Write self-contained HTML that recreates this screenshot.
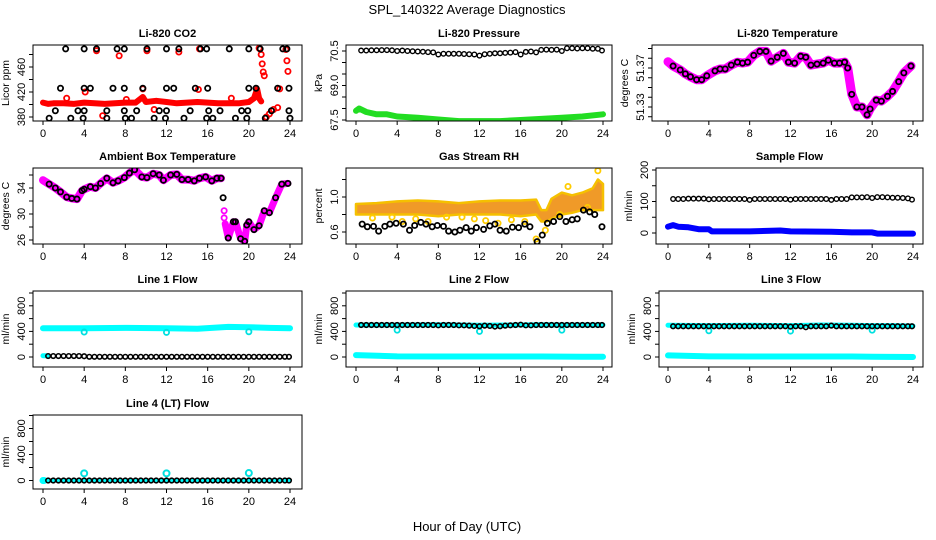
<!DOCTYPE html>
<html><head><meta charset="utf-8"><title>SPL_140322 Average Diagnostics</title>
<style>
html,body{margin:0;padding:0;background:#fff;}
svg{display:block;font-family:"Liberation Sans",Arial,sans-serif;}
</style></head>
<body>
<svg id="chart" width="936" height="540" viewBox="0 0 936 540" xmlns="http://www.w3.org/2000/svg">
<rect width="936" height="540" fill="#fff"/>
<text x="467" y="14" font-size="13" text-anchor="middle">SPL_140322  Average Diagnostics</text>
<text x="467" y="531" font-size="13" text-anchor="middle">Hour of Day (UTC)</text>
</svg>
<script>
// ---------- DATA ----------
// Li-820 CO2
const co2BlackH = [2.2,4.0,5.2,7.2,7.9,10.1,12.0,13.2,15.3,15.9,18.1,20.0,21.1,23.3,23.7, 1.7,4.0,4.6,6.8,7.9,9.7,12.0,12.7,14.8,16.0,20.0,20.7,22.8,23.9, 1.2,3.4,4.0,6.2,7.9,9.1,11.3,12.0,14.3,16.1,17.2,19.3,19.9,22.2,23.9, 0.6,2.7,3.9,6.2,8.0,8.6,10.8,11.9,13.7,15.9,16.5,18.7,19.8,21.6,24.0];
const co2BlackV = [489,489,489,489,489,489,489,489,489,489,489,489,489,489,489, 426,426,426,426,426,426,426,426,426,426,426,426,426,426, 390,390,390,390,390,390,390,390,390,390,390,390,390,390,390, 378,378,378,378,378,378,378,378,378,378,378,378,378,378,378];
const co2RedH = [0,0.5,1,2,3,4,5,6,7,8,9,9.7,10,11,12,13,14,15,16,17,18,19,20,20.5,20.8,21,21.2];
const co2RedV = [403,401,402,402,401,403,402,401,402,403,403,412,404,406,404,402,403,404,403,402,402,402,404,410,425,410,405];
const co2RedPtH = [5.2,10.1,13.2,15.2,7.4,4.1,9.7,15.1,21.0,21.2,21.3,21.4,21.5,21.7,22.0,22.4,22.8,23.0,23.6,23.7,23.8,2.3,8.1,10.8,18.3,5.8];
const co2RedPtV = [486,486,484,489,478,420,425,424,490,480,465,452,446,380,385,392,395,425,488,470,453,410,408,392,410,382];
// Li-820 Pressure
const presBlackH = [0.5,1,1.5,2,2.5,3,3.5,4,4.5,5,5.5,6,6.5,7,7.5,8,8.5,9,9.5,10,10.5,11,11.5,12,12.5,13,13.5,14,14.5,15,15.5,16,16.5,17,17.5,18,18.5,19,19.5,20,20.5,21,21.5,22,22.5,23,23.5,23.9];
const presBlackV = [70.52,70.52,70.53,70.53,70.54,70.54,70.53,70.5,70.52,70.5,70.49,70.48,70.47,70.45,70.44,70.35,70.38,70.38,70.38,70.38,70.37,70.36,70.35,70.3,70.36,70.38,70.4,70.4,70.42,70.43,70.45,70.35,70.46,70.48,70.44,70.55,70.56,70.55,70.56,70.5,70.62,70.62,70.61,70.62,70.62,70.6,70.6,70.52];
const presGreenH = [0,0.3,1,2,3,4,6,8,10,12,14,16,18,20,22,24];
const presGreenV = [67.9,68.0,67.85,67.75,67.75,67.65,67.6,67.52,67.45,67.45,67.45,67.5,67.55,67.6,67.65,67.75];
// Li-820 Temperature
const tempH = [0,0.5,1.2,1.7,2.2,2.8,3.3,3.8,4.6,5.1,5.6,6.2,6.8,7.3,7.8,8.4,9,9.6,10.1,10.7,11.3,11.8,12.4,13,13.5,14,14.6,15.2,15.7,16.3,16.8,17.3,17.6,18,18.5,19,19.5,19.8,20.4,20.9,21.5,22,22.6,23.1,23.8];
const tempV = [51.3765,51.372,51.368,51.364,51.361,51.358,51.358,51.362,51.367,51.369,51.369,51.373,51.376,51.375,51.376,51.383,51.387,51.387,51.377,51.381,51.385,51.376,51.375,51.382,51.381,51.373,51.374,51.375,51.378,51.375,51.375,51.376,51.37,51.343,51.330,51.330,51.322,51.328,51.337,51.336,51.341,51.346,51.356,51.365,51.372];
// Ambient Box Temperature
const ambH1 = [0,0.6,1.2,1.7,2.3,2.8,3.3,3.8,4.0,4.6,5.1,5.6,6.2,6.8,7.3,7.9,8.4,8.9,9.6,10.1,10.7,11.3,11.7,12.4,13,13.5,14.1,14.7,15.2,15.8,16.4,16.9,17.3];
const ambV1 = [35.2,34.6,34.0,33.4,32.6,32.4,32.3,33.6,33.8,34.2,34.0,34.7,35.5,34.8,35.1,35.6,36.3,36.8,35.7,35.6,36.2,36.0,35.2,36.0,36.1,35.3,35.3,35.1,35.5,35.7,35.1,35.5,35.5];
const ambH2 = [17.7,18.0,18.5,18.7,19.2,19.6,19.8,20.0,20.5,21.0,21.5,22.0,22.6,23.2,23.8];
const ambV2 = [28.5,26.3,28.8,28.8,26.2,25.8,28.3,28.8,27.6,28.2,30.5,30.2,32.5,34.6,34.7];
// Gas Stream RH
const rhBandH = [0,2,4,6,8,10,12,14,16,17.5,18,18.5,19,20,21,22,23,23.5,24];
const rhUpper = [0.92,0.93,0.95,0.96,0.95,0.93,0.95,0.96,0.96,0.97,0.85,0.85,0.98,1.05,1.02,1.05,1.1,1.2,1.15];
const rhLower = [0.8,0.8,0.8,0.8,0.78,0.8,0.8,0.8,0.78,0.8,0.72,0.72,0.75,0.8,0.82,0.85,0.85,0.85,0.85];
const rhBlackH = [0.6,1.1,1.7,2.2,2.8,3.3,3.9,4.6,5.2,5.7,6.3,6.8,7.4,7.9,8.5,9,9.6,10.1,10.7,11.2,11.7,12.4,13,13.5,14,14.6,15.2,15.8,16.4,16.9,17.6,18.1,18.6,19.2,19.8,20.4,21,21.5,22.1,22.7,23.2,23.9];
const rhBlackV = [0.69,0.66,0.665,0.61,0.665,0.69,0.70,0.69,0.62,0.675,0.71,0.69,0.66,0.675,0.665,0.61,0.60,0.62,0.65,0.61,0.65,0.63,0.67,0.69,0.62,0.61,0.655,0.65,0.69,0.66,0.49,0.565,0.70,0.72,0.775,0.72,0.74,0.75,0.85,0.83,0.80,0.66];
const rhYellowH = [1.6,3.5,4.5,5.8,7.0,8.8,10.3,11.5,12.6,13.8,15.1,16.4,17.5,18.4,19.8,20.6,22.5,23.5];
const rhYellowV = [0.76,0.77,0.72,0.75,0.72,0.77,0.77,0.75,0.73,0.70,0.74,0.72,0.52,0.62,0.80,1.12,0.88,1.3];
// Sample Flow
const sfBlackH = [0.5,1,1.5,2,2.5,3,3.5,4,4.5,5,5.5,6,6.5,7,7.5,8,8.5,9,9.5,10,10.5,11,11.5,12,12.5,13,13.5,14,14.5,15,15.5,16,16.5,17,17.5,18,18.5,19,19.5,20,20.5,21,21.5,22,22.5,23,23.5,23.9];
const sfBlackV = [108,108,108,109,109,109,109,107,108,108,108,108,108,108,108,105,108,108,108,108,108,108,108,106,108,108,108,108,108,108,108,105,108,108,108,113,113,113,114,111,114,114,113,112,112,111,110,106];
const sfBlueH = [0,0.5,1,2,3,4,4.3,8,11,12,16,18,20,20.5,24];
const sfBlueV = [20,25,20,18,12,12,5,5,8,5,4,2,2,-2,-2];
// Line flows (shared hours for black markers)
const flowH = [0.5,1,1.5,2,2.5,3,3.5,4,4.5,5,5.5,6,6.5,7,7.5,8,8.5,9,9.5,10,10.5,11,11.5,12,12.5,13,13.5,14,14.5,15,15.5,16,16.5,17,17.5,18,18.5,19,19.5,20,20.5,21,21.5,22,22.5,23,23.5,23.9];
const cyanTopH = [0,4,8,12,15,18,20,22,24];
const l1Top = [450,450,455,450,440,470,465,455,450];
const l1Black = [15,15,15,15,15,15,15,12,3,3,3,3,3,3,3,3,3,3,3,3,3,3,3,3,3,3,3,3,3,3,3,3,3,3,3,3,3,3,3,3,3,3,3,3,3,3,3,3];
const l2Top = [500,500,505,495,500,505,500,500,500];
const l2Bottom = [30,10,8,8,8,8,6,4,3];
const l2Black = [500,500,500,500,500,500,500,500,500,500,500,500,500,500,500,495,500,500,500,495,495,490,485,480,490,485,475,480,490,495,500,505,495,495,500,500,500,500,500,500,500,500,500,500,500,500,500,500];
const l3Top = [495,490,495,490,500,495,490,490,485];
const l3Bottom = [25,10,8,8,8,8,5,2,0];
const l3Black = [480,480,480,480,480,480,480,480,480,480,480,480,480,480,480,480,480,480,480,480,480,480,480,475,480,480,465,480,480,480,480,490,480,480,480,480,480,480,480,480,480,480,480,480,480,480,480,480];
const dipH = [4,12,20];
const l1Dip = [390,385,395];
const l2Dip = [420,400,420];
const l3Dip = [410,405,420];
const l4Dip = [110,110,115];
const l4Black = [0,0,0,0,0,0,0,0,0,0,0,0,0,0,0,0,0,0,0,0,0,0,0,0,0,0,0,0,0,0,0,0,0,0,0,0,0,0,0,0,0,0,0,0,0,0,0,0];
const xTicks = [0,4,8,12,16,20,24];

// ---------- DRAWING ----------
const NS = 'http://www.w3.org/2000/svg';
const svg = document.getElementById('chart');
function mk(tag, attrs, parent){
  const e = document.createElementNS(NS, tag);
  for (const k in attrs) e.setAttribute(k, attrs[k]);
  (parent||svg).appendChild(e); return e;
}
function panel(cfg){
  const g = mk('g', {});
  
  
  const xs = h => cfg.x0 + (cfg.x1 - cfg.x0) * h / 24;
  const ys = v => cfg.yRef - (v - cfg.vRef) * cfg.k;
  const t = mk('text', {x:(cfg.bx0+cfg.bx1)/2, y:cfg.by0-8, 'font-size':11, 'font-weight':'bold', 'text-anchor':'middle'}, g);
  
  
  t.textContent = cfg.title;
  const yl = mk('text', {x:0, y:0, 'font-size':10.5, 'text-anchor':'middle', transform:`translate(${cfg.bx0-24},${(cfg.by0+cfg.by1)/2}) rotate(-90)`}, g);
  
  
  yl.textContent = cfg.ylab;
  const cid = 'c' + cfg.name;
  const cp = mk('clipPath', {id:cid}, g);
  mk('rect', {x:cfg.bx0, y:cfg.by0, width:cfg.bx1-cfg.bx0, height:cfg.by1-cfg.by0}, cp);
  const plot = mk('g', {'clip-path':`url(#${cid})`}, g);
  
  
  cfg.draw(plot, xs, ys);
  const b = mk('rect', {x:cfg.bx0, y:cfg.by0, width:cfg.bx1-cfg.bx0, height:cfg.by1-cfg.by0, fill:'none', stroke:'#000', 'stroke-width':1}, g);
  
  
  const xa = mk('g', {}, g);
  
  
  xTicks.forEach(h => {
    mk('line', {x1:xs(h), x2:xs(h), y1:cfg.by1, y2:cfg.by1+4, stroke:'#000'}, xa);
    const tl = mk('text', {x:xs(h), y:cfg.by1+16, 'font-size':11, 'text-anchor':'middle'}, xa);
    
    
    tl.textContent = h;
  });
  const ya = mk('g', {}, g);
  
  
  cfg.yTicks.forEach(v => {
    const y = ys(v);
    if (y < cfg.by0 - 3 || y > cfg.by1 + 3) return;
    mk('line', {x1:cfg.bx0-4, x2:cfg.bx0, y1:y, y2:y, stroke:'#000'}, ya);
  });
  cfg.yLabels.forEach((v,i) => {
    const y = ys(v);
    const tl = mk('text', {x:0, y:0, 'font-size':11, 'text-anchor':'middle', transform:`translate(${cfg.bx0-8},${y}) rotate(-90)`}, ya);
    
    
    tl.textContent = cfg.yLabelText ? cfg.yLabelText[i] : v;
  });
}
function line(p, H, V, xs, ys, color, w, name){
  const pts = H.map((h,i) => xs(h).toFixed(1)+','+ys(V[i]).toFixed(1)).join(' ');
  const pl = mk('polyline', {points:pts, fill:'none', stroke:color, 'stroke-width':w, 'stroke-linejoin':'round', 'stroke-linecap':'round'}, p);
  
  
}
function pts(p, H, V, xs, ys, color, name, r, sw){
  const g = mk('g', {}, p);
  
  
  H.forEach((h,i) => {
    mk('circle', {cx:xs(h), cy:ys(V[i]), r:r||2.6, fill:'none', stroke:color, 'stroke-width':sw||1.8}, g);
  });
}
function band(p, H, U, L, xs, ys, color, name){
  let d = H.map((h,i)=> xs(h).toFixed(1)+','+ys(U[i]).toFixed(1));
  for (let i=H.length-1;i>=0;i--) d.push(xs(H[i]).toFixed(1)+','+ys(L[i]).toFixed(1));
  const pg = mk('polygon', {points:d.join(' '), fill:color, stroke:'#f5c000', 'stroke-width':2.5, 'stroke-linejoin':'round'}, p);
  
  
}
const C1 = {bx0:33, bx1:302, x0:43, x1:290};
const C2 = {bx0:346, bx1:612, x0:356, x1:603};
const C3 = {bx0:656, bx1:923, x0:668, x1:913};
const flowTicks = [0,200,400,600,800,1000];
const flowLabs = [0,400,800];

panel(Object.assign({}, C1, {bx0:33, name:'co2-panel', title:'Li-820 CO2', ylab:'Licor ppm', by0:45, by1:121, yRef:117, vRef:380, k:0.625,
  yTicks:[380,400,420,440,460,480], yLabels:[380,420,460],
  draw:(p,xs,ys)=>{ line(p,co2RedH,co2RedV,xs,ys,'#ff0000',6,'co2-red-series'); pts(p,co2RedPtH,co2RedPtV,xs,ys,'#ff0000','co2-red-points'); pts(p,co2BlackH,co2BlackV,xs,ys,'#000','co2-hourly-points'); }}));
panel(Object.assign({}, C2, {name:'pressure-panel', title:'Li-820 Pressure', ylab:'kPa', by0:45, by1:121, yRef:120, vRef:67.5, k:23,
  yTicks:[67.5,68,68.5,69,69.5,70,70.5], yLabels:[67.5,69.0,70.5], yLabelText:['67.5','69.0','70.5'],
  draw:(p,xs,ys)=>{ line(p,presGreenH,presGreenV,xs,ys,'#22dd22',6,'pressure-green-series'); pts(p,presBlackH,presBlackV,xs,ys,'#000','pressure-hourly-points',2.3,1.4); }}));
panel(Object.assign({}, C3, {bx0:652, name:'temperature-panel', title:'Li-820 Temperature', ylab:'degrees C', by0:45, by1:121, yRef:107, vRef:51.33, k:975,
  yTicks:[51.32,51.33,51.34,51.35,51.36,51.37,51.38,51.39], yLabels:[51.33,51.37], yLabelText:['51.33','51.37'],
  draw:(p,xs,ys)=>{ line(p,tempH,tempV,xs,ys,'#ff00ff',9,'temp-magenta-series'); pts(p,tempH.slice(1),tempV.slice(1),xs,ys,'#000','temp-hourly-points'); }}));
panel(Object.assign({}, C1, {name:'ambient-panel', title:'Ambient Box Temperature', ylab:'degrees C', by0:168, by1:244, yRef:240, vRef:26, k:6.5,
  yTicks:[26,28,30,32,34,36], yLabels:[26,30,34],
  draw:(p,xs,ys)=>{ line(p,ambH1,ambV1,xs,ys,'#ff00ff',8,'ambient-magenta-series-1'); line(p,ambH2,ambV2,xs,ys,'#ff00ff',7,'ambient-magenta-series-2');
    pts(p,[17.6,17.6],[30.5,29.4],xs,ys,'#ff00ff','ambient-magenta-points');
    pts(p,ambH1.slice(1),ambV1.slice(1),xs,ys,'#000','ambient-hourly-points-1'); pts(p,[17.5].concat(ambH2.slice(1)),[32.5].concat(ambV2.slice(1)),xs,ys,'#000','ambient-hourly-points-2'); }}));
panel(Object.assign({}, C2, {name:'rh-panel', title:'Gas Stream RH', ylab:'percent', by0:168, by1:244, yRef:232, vRef:0.6, k:87.5,
  yTicks:[0.6,0.8,1.0,1.2], yLabels:[0.6,1.0], yLabelText:['0.6','1.0'],
  draw:(p,xs,ys)=>{ band(p,rhBandH,rhUpper,rhLower,xs,ys,'#f09a28','rh-band'); pts(p,rhYellowH,rhYellowV,xs,ys,'#ffcc00','rh-yellow-points'); pts(p,rhBlackH,rhBlackV,xs,ys,'#000','rh-hourly-points'); }}));
panel(Object.assign({}, C3, {name:'sample-flow-panel', title:'Sample Flow', ylab:'ml/min', by0:168, by1:244, yRef:233, vRef:0, k:0.315,
  yTicks:[0,50,100,150,200], yLabels:[0,100,200],
  draw:(p,xs,ys)=>{ line(p,sfBlueH,sfBlueV,xs,ys,'#0000ff',6,'sample-flow-blue-series'); pts(p,sfBlackH,sfBlackV,xs,ys,'#000','sample-flow-hourly-points',2.3,1.4); }}));
panel(Object.assign({}, C1, {name:'line1-flow-panel', title:'Line 1 Flow', ylab:'ml/min', by0:291, by1:367, yRef:357, vRef:0, k:0.064,
  yTicks:flowTicks, yLabels:flowLabs,
  draw:(p,xs,ys)=>{ line(p,cyanTopH,l1Top,xs,ys,'#00ffff',6,'line1-cyan-series'); pts(p,dipH,l1Dip,xs,ys,'#00e0e0','line1-cyan-dips');
    line(p,[0,0.5],[20,20],xs,ys,'#00ffff',5,'line1-cyan-low'); pts(p,flowH,l1Black,xs,ys,'#000','line1-hourly-points',2.3,1.6); }}));
panel(Object.assign({}, C2, {name:'line2-flow-panel', title:'Line 2 Flow', ylab:'ml/min', by0:291, by1:367, yRef:357, vRef:0, k:0.064,
  yTicks:flowTicks, yLabels:flowLabs,
  draw:(p,xs,ys)=>{ line(p,cyanTopH,l2Top,xs,ys,'#00ffff',5,'line2-cyan-series'); line(p,cyanTopH,l2Bottom,xs,ys,'#00ffff',6,'line2-cyan-low'); pts(p,dipH,l2Dip,xs,ys,'#00e0e0','line2-cyan-dips'); pts(p,flowH,l2Black,xs,ys,'#000','line2-hourly-points',2.3,1.6); }}));
panel(Object.assign({}, C3, {bx0:659, name:'line3-flow-panel', title:'Line 3 Flow', ylab:'ml/min', by0:291, by1:367, yRef:357, vRef:0, k:0.064,
  yTicks:flowTicks, yLabels:flowLabs,
  draw:(p,xs,ys)=>{ line(p,cyanTopH,l3Top,xs,ys,'#00ffff',5,'line3-cyan-series'); line(p,cyanTopH,l3Bottom,xs,ys,'#00ffff',6,'line3-cyan-low'); pts(p,dipH,l3Dip,xs,ys,'#00e0e0','line3-cyan-dips'); pts(p,flowH,l3Black,xs,ys,'#000','line3-hourly-points',2.3,1.6); }}));
panel(Object.assign({}, C1, {name:'line4-flow-panel', title:'Line 4 (LT) Flow', ylab:'ml/min', by0:415, by1:489, yRef:480.5, vRef:0, k:0.065,
  yTicks:flowTicks, yLabels:flowLabs,
  draw:(p,xs,ys)=>{ line(p,[0,24],[0,0],xs,ys,'#00ffff',3,'line4-cyan-series'); pts(p,[0,0.1],[0,0],xs,ys,'#00ffff','line4-cyan-start'); pts(p,dipH,l4Dip,xs,ys,'#00e0e0','line4-cyan-spikes',3,2); pts(p,flowH,l4Black,xs,ys,'#000','line4-hourly-points',2.3,1.6); }}));
</script>
</body></html>
